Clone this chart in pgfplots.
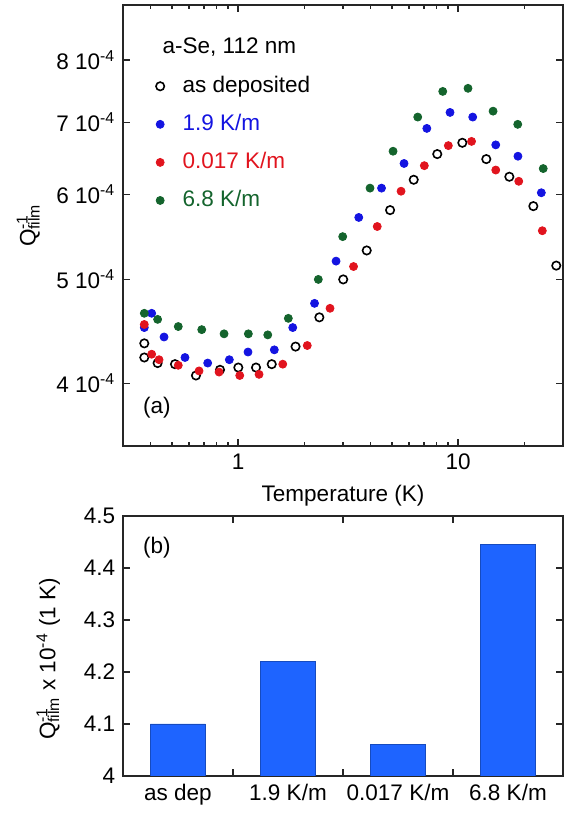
\documentclass[border=0pt]{standalone}
\usepackage{fontspec}
\setmainfont{Liberation Sans}
\usepackage{pgfplots}
\pgfplotsset{compat=1.18}

\definecolor{ratblue}{RGB}{20,20,225}
\definecolor{ratred}{RGB}{225,20,30}
\definecolor{ratgreen}{RGB}{20,100,45}
\definecolor{barblue}{RGB}{30,100,255}

\begin{document}
\fontsize{11.3}{13.5}\selectfont
\begin{tikzpicture}
\pgfplotsset{every axis/.append style={
    scale only axis,
    axis line style={line width=0.75bp, black!85},
    tick style={line width=0.75bp, black!85},
    major tick length=3.5bp, minor tick length=2bp,
    tick align=inside,
    font=\fontsize{11.3}{13.5}\selectfont,
    /pgf/number format/assume math mode=true,
}}

% (a) Q^-1 vs T
\begin{axis}[
    name=top, anchor=north west, at={(0,0)},
    width=220bp, height=220.5bp,
    xmode=log, ymode=log,
    xmin=0.3, xmax=30, ymin=3.5, ymax=9,
    xtick={1,10}, xticklabels={1,10},
    minor xtick={0.4,0.5,0.6,0.7,0.8,0.9,2,3,4,5,6,7,8,9,20},
    ytick={4,5,6,7,8}, minor ytick={},
    yticklabels={4 10\textsuperscript{-4},5 10\textsuperscript{-4},6 10\textsuperscript{-4},7 10\textsuperscript{-4},8 10\textsuperscript{-4}},
    xlabel={Temperature (K)},
    ylabel={Q\rlap{\textsuperscript{-1}}\textsubscript{film}},
    ylabel style={at={(axis description cs:-0.215,0.5)}, anchor=center},
    legend style={at={(axis description cs:0.06,0.857)}, anchor=north west,
        draw=none, fill=none, row sep=5.2bp},
    legend cell align=left,
    legend image code/.code={\draw[#1] plot coordinates {(0bp,0bp)}; \path (-2bp,0bp) (9bp,0bp);},
]
\addplot[only marks, mark=o, mark size=2.1bp, black, mark options={line width=0.8bp}] coordinates {
    (0.375,4.36) (0.375,4.23) (0.431,4.18) (0.517,4.17) (0.644,4.07) (0.828,4.12)
    (1.003,4.14) (1.207,4.14) (1.423,4.17) (1.826,4.33) (2.342,4.61) (3.007,5.00)
    (3.846,5.32) (4.910,5.80) (6.289,6.19) (8.047,6.54) (10.46,6.70) (13.44,6.47)
    (17.11,6.23) (21.99,5.85) (27.96,5.15)
};
\addlegendentry{as deposited}
\addplot[only marks, mark=*, mark size=2bp, ratblue] coordinates {
    (0.375,4.51) (0.405,4.65) (0.461,4.42) (0.574,4.23) (0.728,4.18) (0.913,4.21)
    (1.110,4.28) (1.462,4.30) (1.773,4.51) (2.227,4.75) (2.790,5.20) (3.538,5.71)
    (4.490,6.08) (5.683,6.41) (7.215,6.91) (9.197,7.15) (11.66,7.08) (14.84,6.67)
    (18.72,6.51) (23.91,6.02)
};
\addlegendentry{\textcolor{ratblue}{1.9 K/m}}
\addplot[only marks, mark=*, mark size=2bp, ratred] coordinates {
    (0.375,4.54) (0.405,4.26) (0.4375,4.21) (0.535,4.16) (0.665,4.11) (0.820,4.10)
    (1.018,4.07) (1.246,4.08) (1.597,4.17) (2.064,4.34) (2.619,4.70) (3.350,5.14)
    (4.293,5.60) (5.508,6.04) (7.028,6.38) (9.035,6.66) (11.52,6.72) (14.84,6.32)
    (18.88,6.17) (24.16,5.55)
};
\addlegendentry{\textcolor{ratred}{0.017 K/m}}
\addplot[only marks, mark=*, mark size=2bp, ratgreen] coordinates {
    (0.375,4.65) (0.431,4.59) (0.535,4.52) (0.684,4.49) (0.864,4.45) (1.114,4.45)
    (1.365,4.44) (1.693,4.60) (2.317,5.00) (2.991,5.48) (3.981,6.08) (5.066,6.58)
    (6.559,7.08) (8.522,7.48) (11.10,7.53) (14.43,7.17) (18.68,6.97) (24.39,6.34)
};
\addlegendentry{\textcolor{ratgreen}{6.8 K/m}}
\node[anchor=west] at (axis description cs:0.072,0.905) {a-Se, 112 nm};
\node[anchor=west] at (axis description cs:0.028,0.086) {(a)};
\end{axis}

% (b) Q^-1 at 1 K
\begin{axis}[
    at={(top.south west)}, yshift=-35bp, anchor=north west,
    width=220bp, height=130bp,
    ybar, bar width=0.5, bar shift=0pt,
    tick align=inside, xtick pos=both, ytick pos=both,
    xmin=-0.5, xmax=3.5, ymin=4, ymax=4.5,
    xtick={0.5,1.5,2.5}, xticklabels={},
    extra x ticks={0,1,2,3},
    extra x tick labels={as dep,1.9 K/m,0.017 K/m,6.8 K/m},
    extra x tick style={xtick style={draw=none}},
    ytick={4,4.1,4.2,4.3,4.4,4.5},
    yticklabels={4,4.1,4.2,4.3,4.4,4.5},
    ylabel={Q\rlap{\textsuperscript{-1}}\textsubscript{film} x 10\textsuperscript{-4} (1 K)},
    ylabel style={at={(axis description cs:-0.17,0.45)}, anchor=center},
]
\addplot[fill=barblue, draw=barblue!75!black, line width=0.3bp] coordinates {
    (0,4.10) (1,4.22) (2,4.06) (3,4.445)
};
\node[anchor=west] at (axis description cs:0.028,0.877) {(b)};
\end{axis}

\path ([xshift=-61.5bp,yshift=2.5bp]top.north west) rectangle ++(283bp,-406.5bp);
\end{tikzpicture}
\end{document}
